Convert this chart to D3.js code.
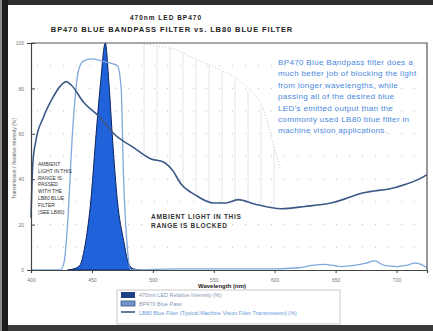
<!DOCTYPE html>
<html>
<head>
<meta charset="utf-8">
<script src="https://cdn.jsdelivr.net/npm/d3@7"></script>
<style>
  html, body { margin: 0; padding: 0; background: #fff; }
  svg { display: block; font-family: "Liberation Sans", Arial, sans-serif; }
</style>
</head>
<body>
<svg id="chart" width="433" height="331"></svg>
<script>
// ---- data -------------------------------------------------------------
const xTicks = [400, 450, 500, 550, 600, 650, 700];
const yTicks = [0, 20, 40, 60, 80, 100];

// LB80 blue filter, % transmission
const lb80W = [400, 401.5, 404, 410, 418, 424, 429, 433, 443, 457, 468, 484, 498, 509, 516, 523, 535, 550, 560, 570, 584, 605, 625, 646, 673, 700, 722, 725];
const lb80V = [23, 47, 57, 67, 76, 81, 83, 81.5, 74, 67, 60, 54, 49, 47.5, 44, 38, 33, 29.5, 29.5, 31, 29, 27, 28, 29.5, 34, 36.5, 41, 42];

// BP470 blue bandpass filter, % transmission
const bpW = [400, 424, 427, 430, 434, 439, 443, 450, 458, 466, 471, 474, 476, 479, 482, 520, 560, 600, 620, 630, 640, 655, 665, 675, 682, 690, 700, 708, 715, 720, 725];
const bpV = [0, 0, 3, 20, 60, 88, 92, 93, 92, 91, 90, 80, 40, 10, 0, 0.5, 0.5, 0.5, 1, 2, 2.5, 1.5, 2, 3, 4, 2, 1.5, 2, 3, 2.5, 1];

// 470nm LED, relative intensity
const ledW = [430, 435, 440, 445, 449, 453, 457, 461, 464, 467, 471, 476, 480, 484, 490];
const ledV = [0, 0.5, 2, 13, 30, 57, 82, 100, 82, 57, 30, 13, 3, 0.5, 0];

// ambient light envelope over the blocked range
const ambW = [488, 500, 519, 535, 550, 572, 591, 598, 605];
const ambV = [100, 99, 97, 93, 89.5, 83, 70.5, 57, 44];

const titleLines = ["470nm LED BP470", "BP470 BLUE BANDPASS FILTER vs. LB80 BLUE FILTER"];
const noteLines = [
  "BP470 Blue Bandpass filter does a",
  "much better job of blocking the light",
  "from longer wavelengths, while",
  "passing all of the desired blue",
  "LED's emitted output than the",
  "commonly used LB80 blue filter in",
  "machine vision applications."
];
const passedLines = ["AMBIENT", "LIGHT IN THIS", "RANGE IS", "PASSED", "WITH THE", "LB80 BLUE", "FILTER", "(SEE LB80)"];
const blockedLines = ["AMBIENT LIGHT IN THIS", "RANGE IS BLOCKED"];
const legendLabels = [
  "470nm LED Relative Intensity (%)",
  "BP470 Blue Pass",
  "LB80 Blue Filter (Typical Machine Vision Filter Transmission) (%)"
];

// ---- layout -----------------------------------------------------------
const svg = d3.select("#chart");
const plot = { left: 31, right: 427, top: 43, bottom: 270 };

const x = d3.scaleLinear().domain([400, 725]).range([plot.left, plot.right]);
const y = d3.scaleLinear().domain([0, 100]).range([plot.bottom, plot.top]);

const zip = (w, v) => w.map((d, i) => [d, v[i]]);
const lb80 = zip(lb80W, lb80V);
const bp = zip(bpW, bpV);
const led = zip(ledW, ledV);
const amb = zip(ambW, ambV);

svg.append("rect").attr("width", 433).attr("height", 331).attr("fill", "#fff");

// page edges
svg.append("rect").attr("x", 0).attr("y", 0).attr("width", 433).attr("height", 5).attr("fill", "#2e2e2e");
svg.append("rect").attr("x", 0).attr("y", 325).attr("width", 433).attr("height", 6).attr("fill", "#3a3a3a");
svg.append("rect").attr("x", 0).attr("y", 0).attr("width", 2).attr("height", 331).attr("fill", "#8a8a8a");
svg.append("rect").attr("x", 2).attr("y", 0).attr("width", 6).attr("height", 331).attr("fill", "#1c1c1c");

const defs = svg.append("defs");
const hatch = defs.append("pattern").attr("id", "hatch")
  .attr("patternUnits", "userSpaceOnUse").attr("width", 13).attr("height", 10);
hatch.append("line").attr("x1", 1).attr("x2", 1).attr("y1", 0).attr("y2", 10)
  .attr("stroke", "#e2e5ea").attr("stroke-width", 1);

// region above the LB80 curve
defs.append("clipPath").attr("id", "aboveLB80").append("path")
  .attr("d", d3.area().x(d => x(d[0])).y0(y(100)).y1(d => y(d[1]))(lb80));

// ---- grid -------------------------------------------------------------
const grid = svg.append("g");
d3.range(10, 100, 10).forEach(v => {
  grid.append("line").attr("x1", plot.left + 6).attr("x2", plot.right - 2)
    .attr("y1", y(v)).attr("y2", y(v))
    .attr("stroke", "#b9c3d2").attr("stroke-width", 1).attr("stroke-dasharray", "1,12");
});

// hatched ambient envelope
svg.append("path")
  .attr("d", d3.area().x(d => x(d[0])).y0(y(0)).y1(d => y(d[1]))(amb))
  .attr("fill", "url(#hatch)").attr("clip-path", "url(#aboveLB80)");
svg.append("path")
  .attr("d", d3.line().x(d => x(d[0])).y(d => y(d[1])).curve(d3.curveMonotoneX)(amb))
  .attr("fill", "none").attr("stroke", "#c0c4cb").attr("stroke-width", 1).attr("stroke-dasharray", "1,2");

// ---- series -----------------------------------------------------------
const line = d3.line().x(d => x(d[0])).y(d => y(d[1]));

svg.append("path")
  .attr("d", d3.area().x(d => x(d[0])).y0(y(0)).y1(d => y(d[1])).curve(d3.curveMonotoneX)(led))
  .attr("fill", "#1f62da").attr("stroke", "#0b2260").attr("stroke-width", 1);

svg.append("path").attr("d", line.curve(d3.curveMonotoneX)(bp))
  .attr("fill", "none").attr("stroke", "#7ea8dc").attr("stroke-width", 1.3);

svg.append("path").attr("d", line.curve(d3.curveMonotoneX)(lb80))
  .attr("fill", "none").attr("stroke", "#3d5886").attr("stroke-width", 1.6);

// ---- frame and axes ---------------------------------------------------
svg.append("path")
  .attr("d", `M${plot.left},${plot.top}H${plot.right}V${plot.bottom}`)
  .attr("fill", "none").attr("stroke", "#555").attr("stroke-width", 1.2);

const xAxis = svg.append("g").attr("transform", `translate(0,${plot.bottom})`)
  .call(d3.axisBottom(x).tickValues(xTicks).tickSize(3).tickPadding(5));
const yAxis = svg.append("g").attr("transform", `translate(${plot.left},0)`)
  .call(d3.axisLeft(y).tickValues(yTicks).tickSize(4).tickPadding(3));
[xAxis, yAxis].forEach(a => {
  a.selectAll("path").attr("stroke", "#444").attr("stroke-width", 1.2);
  a.selectAll("line").attr("stroke", "#444");
  a.selectAll("text").attr("font-size", 5).attr("fill", "#777").attr("font-family", "Liberation Sans, Arial, sans-serif");
});
yAxis.selectAll(".tick line").attr("x2", 4);

svg.append("text").attr("x", 222).attr("y", 288).attr("text-anchor", "middle")
  .attr("font-size", 6).attr("font-weight", "bold").attr("fill", "#222")
  .text("Wavelength (nm)");

svg.append("text").attr("transform", `translate(16,${(plot.top + plot.bottom) / 2 + 2}) rotate(-90)`)
  .attr("text-anchor", "middle").attr("font-size", 5).attr("fill", "#666")
  .text("Transmission / Relative Intensity (%)");

// ---- titles and notes -------------------------------------------------
svg.append("text").attr("x", 166).attr("y", 20).attr("text-anchor", "middle")
  .attr("font-size", 6.5).attr("letter-spacing", 1).attr("font-weight", "bold").attr("fill", "#222").text(titleLines[0]);
svg.append("text").attr("x", 172).attr("y", 32).attr("text-anchor", "middle")
  .attr("font-size", 7.5).attr("letter-spacing", 0.9).attr("font-weight", "bold").attr("fill", "#222").text(titleLines[1]);

svg.append("g").selectAll("text").data(noteLines).join("text")
  .attr("x", 278).attr("y", (d, i) => 65 + i * 11.4)
  .attr("font-size", 8.1).attr("letter-spacing", 0.3).attr("fill", "#4a88e0").text(d => d);

svg.append("g").selectAll("text").data(passedLines).join("text")
  .attr("x", 38).attr("y", (d, i) => 166 + i * 6.8)
  .attr("font-size", 5).attr("fill", "#333").text(d => d);

svg.append("g").selectAll("text").data(blockedLines).join("text")
  .attr("x", 151).attr("y", (d, i) => 219 + i * 9)
  .attr("font-size", 6.5).attr("letter-spacing", 0.7).attr("font-weight", "bold").attr("fill", "#333").text(d => d);

// ---- legend -----------------------------------------------------------
const lg = svg.append("g");
lg.append("rect").attr("x", 117).attr("y", 290).attr("width", 223).attr("height", 34)
  .attr("fill", "#fff").attr("stroke", "#bbb").attr("stroke-width", 0.8);
lg.append("rect").attr("x", 121).attr("y", 292).attr("width", 14).attr("height", 6)
  .attr("fill", "#1f3f86");
lg.append("rect").attr("x", 121).attr("y", 301).attr("width", 14).attr("height", 5)
  .attr("fill", "#6f93c8").attr("stroke", "#3d5886").attr("stroke-width", 0.8);
lg.append("line").attr("x1", 121).attr("x2", 135).attr("y1", 312).attr("y2", 312)
  .attr("stroke", "#3d5886").attr("stroke-width", 1.6);
lg.selectAll("text.lbl").data(legendLabels).join("text").attr("class", "lbl")
  .attr("x", 139).attr("y", (d, i) => 297 + i * 9)
  .attr("font-size", 5.5).attr("fill", (d, i) => i === 2 ? "#6a9ad8" : "#8797b0")
  .text(d => d);
</script>
</body>
</html>
